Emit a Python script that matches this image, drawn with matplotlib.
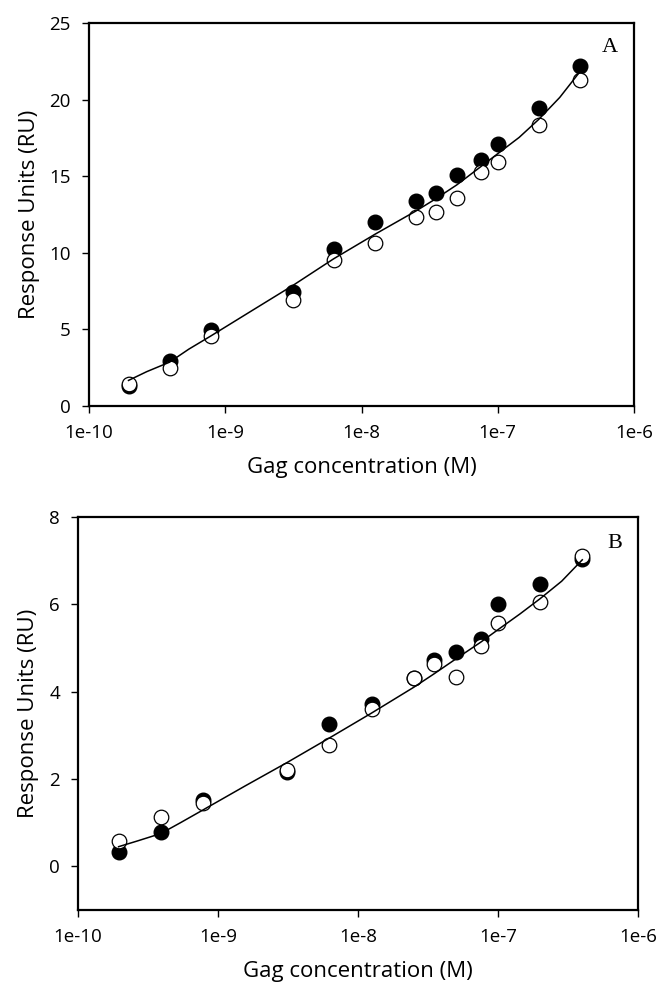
import numpy as np
import matplotlib.pyplot as plt
from matplotlib.ticker import FixedLocator, NullLocator

# Gag concentrations (M), same series in both panels
conc = [1.95e-10, 3.9e-10, 7.8e-10, 3.125e-9, 6.25e-9, 1.25e-8, 2.5e-8,
        3.5e-8, 5e-8, 7.5e-8, 1e-7, 2e-7, 4e-7]

fit_conc = [1.95e-10, 2.65e-10, 3.9e-10, 5.4e-10, 7.8e-10, 1.56e-9, 3.125e-9, 6.25e-9,
            1.25e-8, 2.5e-8, 3.5e-8, 5e-8, 7.5e-8, 1e-7, 1.435e-7, 2e-7, 2.85e-7, 4e-7]

# panel A
a_filled = [1.3, 2.93, 4.93, 7.42, 10.26, 12.04, 13.35, 13.89, 15.1, 16.08, 17.1, 19.44, 22.18]
a_open = [1.45, 2.45, 4.56, 6.94, 9.5, 10.61, 12.33, 12.67, 13.59, 15.3, 15.93, 18.36, 21.31]
a_fit = [1.67, 2.24, 2.86, 3.71, 4.56, 6.21, 7.86, 9.61, 11.2, 12.72, 13.52, 14.43,
         15.62, 16.47, 17.53, 18.71, 20.14, 21.81]

# panel B
b_filled = [0.32, 0.79, 1.53, 2.15, 3.26, 3.72, 4.31, 4.73, 4.91, 5.2, 6.01, 6.47, 7.03]
b_open = [0.58, 1.12, 1.45, 2.2, 2.78, 3.61, 4.31, 4.63, 4.33, 5.04, 5.57, 6.06, 7.11]
b_fit = [0.45, 0.58, 0.75, 1.0, 1.29, 1.84, 2.38, 2.94, 3.51, 4.1, 4.41, 4.75,
         5.13, 5.42, 5.78, 6.13, 6.53, 7.02]

xticks = [1e-10, 1e-9, 1e-8, 1e-7, 1e-6]
xticklabels = ["1e-10", "1e-9", "1e-8", "1e-7", "1e-6"]

plt.rcParams['font.family'] = ['Open Sans', 'DejaVu Sans']

W, H = 657, 991
fig = plt.figure(figsize=(W / 100, H / 100), dpi=100)


def make_axes(left, top, right, bottom):
    return fig.add_axes([left / W, 1 - bottom / H, (right - left) / W, (bottom - top) / H])


def draw_panel(ax, filled, opn, fit, ylim, yticks, letter, lpos):
    ax.plot(conc, filled, 'o', ms=10.5, mfc='black', mec='black', mew=1, zorder=2)
    ax.plot(conc, opn, 'o', ms=10.5, mfc='white', mec='black', mew=0.9, zorder=3)
    ax.plot(fit_conc, fit, '-', color='black', lw=1.1, zorder=4)
    ax.set_xscale('log')
    ax.set_xlim(1e-10, 1e-6)
    ax.set_ylim(*ylim)
    ax.xaxis.set_major_locator(FixedLocator(xticks))
    ax.xaxis.set_minor_locator(NullLocator())
    ax.set_xticklabels(xticklabels)
    ax.set_yticks(yticks)
    for s in ax.spines.values():
        s.set_linewidth(1.6)
    ax.tick_params(direction='out', length=5, width=1, labelsize=13.5, pad=8)
    ax.set_xlabel("Gag concentration (M)", fontsize=16, labelpad=11)
    ax.set_ylabel("Response Units (RU)", fontsize=16, labelpad=7)
    ax.text(lpos[0], lpos[1], letter, transform=ax.transAxes, fontsize=16,
            family='Liberation Serif', ha='center', va='center')


ax1 = make_axes(89, 23, 634, 406)
draw_panel(ax1, a_filled, a_open, a_fit, (0, 25), [0, 5, 10, 15, 20, 25], "A", (0.955, 0.935))

ax2 = make_axes(78, 517, 638, 910)
draw_panel(ax2, b_filled, b_open, b_fit, (-1, 8), [0, 2, 4, 6, 8], "B", (0.958, 0.933))

fig.savefig("out.png", dpi=100)
